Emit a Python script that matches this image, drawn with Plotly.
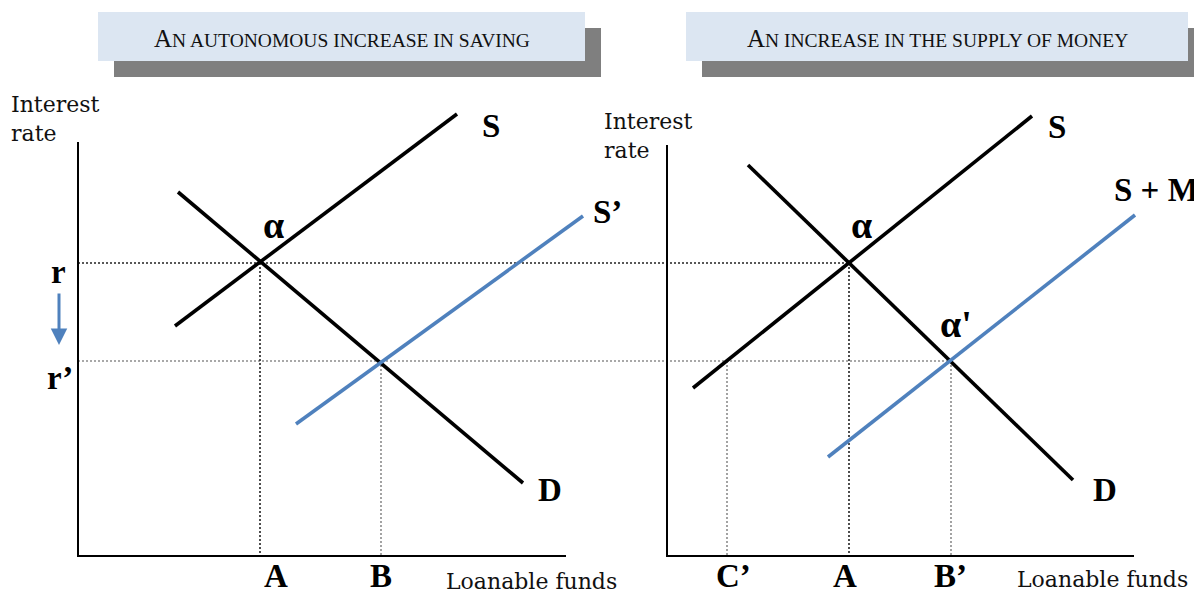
import plotly.graph_objects as go

# ---- data (diagram coordinates, 1 unit = 1 px, y measured downward) ----
# left panel: "An autonomous increase in saving"
left_axis_x = [78, 78, 566]
left_axis_y = [142, 556, 556]
left_S_x = [175, 457]
left_S_y = [326, 114]
left_D_x = [178, 523]
left_D_y = [192, 483]
left_Sprime_x = [296, 583]
left_Sprime_y = [424, 216]

# right panel: "An increase in the supply of money"
right_axis_x = [667, 667, 1134]
right_axis_y = [145, 556, 556]
right_S_x = [693, 1032]
right_S_y = [388, 116]
right_D_x = [748, 1073]
right_D_y = [165, 480]
right_SM_x = [828, 1135]
right_SM_y = [457, 215]

# interest-rate levels and guide positions
rate_r = 263
rate_r_prime = 361
guide_h_x_end = [849, 951]          # where r and r' guides end
guide_v_black_x = [260, 849]         # A positions (from r)
guide_v_gray_x = [381, 727, 951]     # B, C', B' positions (from r')
axis_bottom = 556

titles = ["An autonomous increase in saving", "An increase in the supply of money"]

BLUE = "#4F81BD"
BLACK = "#000000"
GRAY = "#8C8C8C"

# page body has an 8px margin; the figure starts 8px in
PAGE_OFF = 8
W, H = 1202, 597

fig = go.Figure()

def line(x, y, color, width, dash="solid"):
    fig.add_trace(go.Scatter(x=x, y=y, mode="lines",
                             line=dict(color=color, width=width, dash=dash),
                             hoverinfo="skip", showlegend=False))

# guides (drawn first, under curves)
line([left_axis_x[0], guide_h_x_end[0]], [rate_r, rate_r], "#222222", 1.6, "2px,2px")
line([left_axis_x[0], guide_h_x_end[1]], [rate_r_prime, rate_r_prime], GRAY, 1.6, "2px,2px")
for gx in guide_v_black_x:
    line([gx, gx], [rate_r, axis_bottom], "#222222", 1.6, "2px,2px")
for gx in guide_v_gray_x:
    line([gx, gx], [rate_r_prime, axis_bottom], GRAY, 1.6, "2px,2px")

# axes
line(left_axis_x, left_axis_y, BLACK, 2)
line(right_axis_x, right_axis_y, BLACK, 2)

# curves
line(left_S_x, left_S_y, BLACK, 3.6)
line(left_D_x, left_D_y, BLACK, 3.6)
line(left_Sprime_x, left_Sprime_y, BLUE, 3.6)
line(right_S_x, right_S_y, BLACK, 3.6)
line(right_D_x, right_D_y, BLACK, 3.6)
line(right_SM_x, right_SM_y, BLUE, 3.6)

# title boxes with shadow
boxes = [(98, 585), (686, 1188)]
for (x0, x1) in boxes:
    fig.add_shape(type="rect", x0=x0 + 16, x1=x1 + 16, y0=28, y1=77,
                  fillcolor="#7F7F7F", line=dict(width=0), layer="below")
    fig.add_shape(type="rect", x0=x0, x1=x1, y0=12, y1=61,
                  fillcolor="#DCE6F2", line=dict(width=0), layer="below")

def smallcaps(t):
    words = t.upper()
    return (f"<span style='font-size:25px'>{words[0]}</span>"
            f"<span style='font-size:19.5px'>{words[1:]}</span>")

for (x0, x1), t in zip(boxes, titles):
    fig.add_annotation(x=(x0 + x1) / 2, y=38, text=smallcaps(t), showarrow=False,
                       font=dict(family="Liberation Serif", size=19.5, color="#111111"),
                       xanchor="center", yanchor="middle")

REG = dict(family="DejaVu Serif", size=22, color="#111111")
BOLD = dict(family="Liberation Serif", size=33, color="#000000")
GREEK = dict(family="Liberation Serif", size=38, color="#000000")

def txt(x, y, s, font, xanchor="center", yanchor="middle"):
    fig.add_annotation(x=x, y=y, text=s, showarrow=False, font=font,
                       xanchor=xanchor, yanchor=yanchor)

# left labels
txt(9, 104, "Interest", REG, "left")
txt(9, 133, "rate", REG, "left")
txt(58, 272, "<b>r</b>", BOLD)
txt(60, 378, "<b>r’</b>", BOLD)
txt(273, 225, "<b>α</b>", GREEK)
txt(491, 126, "<b>S</b>", BOLD)
txt(607, 212, "<b>S’</b>", BOLD)
txt(550, 490, "<b>D</b>", BOLD)
txt(276, 596, "<b>A</b>", BOLD, yanchor="bottom")
txt(381, 596, "<b>B</b>", BOLD, yanchor="bottom")
txt(444, 581, "Loanable funds", REG, "left")

# right labels
txt(602, 121, "Interest", REG, "left")
txt(602, 150, "rate", REG, "left")
txt(861, 225, "<b>α</b>", GREEK)
txt(1057, 127, "<b>S</b>", BOLD)
txt(1201, 190, "<b>S + M</b>", BOLD, "right")
txt(956, 324, "<b>α'</b>", GREEK)
txt(1105, 490, "<b>D</b>", BOLD)
txt(733, 596, "<b>C’</b>", BOLD, yanchor="bottom")
txt(845, 596, "<b>A</b>", BOLD, yanchor="bottom")
txt(950, 596, "<b>B’</b>", BOLD, yanchor="bottom")
txt(1015, 579, "Loanable funds", REG, "left")

# r -> r' arrow
fig.add_annotation(x=59, y=345, ax=59, ay=292, xref="x", yref="y", axref="x", ayref="y",
                   text="", showarrow=True, arrowhead=2, arrowsize=1.1,
                   arrowwidth=3, arrowcolor=BLUE)

fig.update_layout(
    width=W - PAGE_OFF, height=H - PAGE_OFF,
    margin=dict(l=0, r=0, t=0, b=0),
    paper_bgcolor="white", plot_bgcolor="white",
    xaxis=dict(range=[PAGE_OFF, W], visible=False, fixedrange=True),
    yaxis=dict(range=[H, PAGE_OFF], visible=False, fixedrange=True),
)

fig.write_html("out.html")
